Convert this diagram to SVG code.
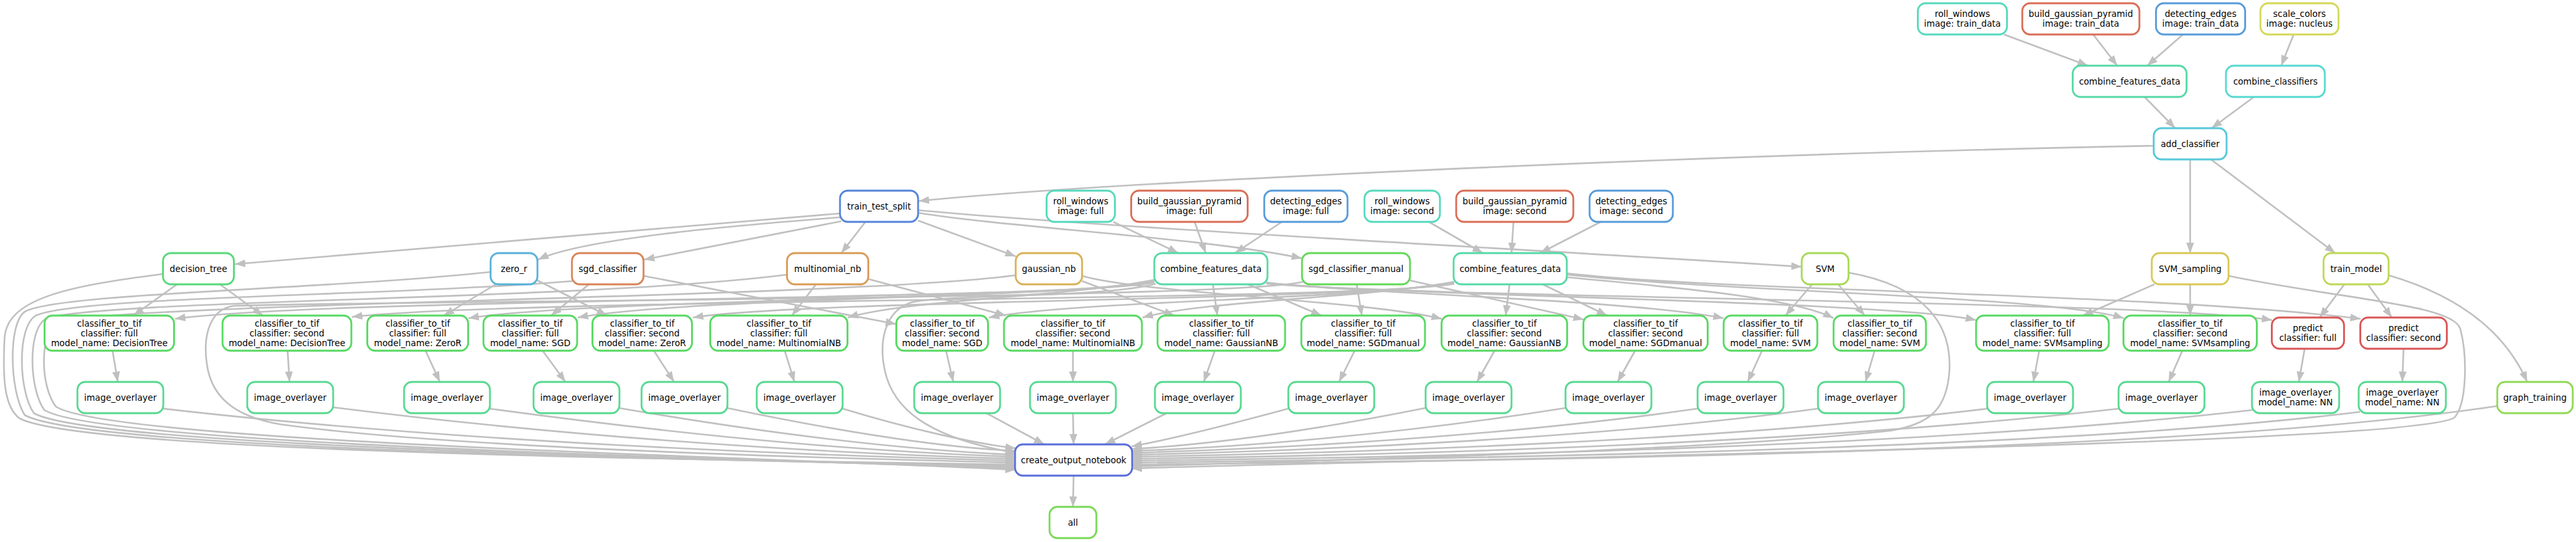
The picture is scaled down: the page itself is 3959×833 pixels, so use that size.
<svg xmlns="http://www.w3.org/2000/svg" width="3959" height="833" viewBox="0 0 3959 833">
<style>
.e path{fill:none;stroke:#c0c0c0;stroke-width:2.6;marker-end:url(#ah)}
.n rect{fill:#fff;stroke-width:2.8}
.n text{font-family:"DejaVu Sans","Liberation Sans",sans-serif;font-size:13.33px;text-anchor:middle;fill:#000}
</style>
<defs>
<marker id="ah" markerUnits="userSpaceOnUse" markerWidth="17" markerHeight="13" viewBox="0 0 17 13" refX="16" refY="6.5" orient="auto"><path d="M0,0.5 L16,6.5 L0,12.5 z" fill="#c0c0c0"/></marker>
</defs>
<rect width="3959" height="833" fill="#fff"/>
<g id="edges" class="e">
<path d="M3080,53 L3209,101"/>
<path d="M3217,53 L3254,101"/>
<path d="M3355,53 L3300,101"/>
<path d="M3525,53 L3506,101"/>
<path d="M3296,149 L3343,197"/>
<path d="M3464,149 L3399,197"/>
<path d="M3311,224 C2600,238 1700,280 1412,309"/>
<path d="M3366,245 L3366,389"/>
<path d="M3398,245 L3589,389"/>
<path d="M1291,328 L361,406"/>
<path d="M1292,334 C1150,345 900,365 827,399"/>
<path d="M1293,340 L990,399"/>
<path d="M1330,341 L1293,389"/>
<path d="M1411,339 L1561,394"/>
<path d="M1411,327 C1550,350 1850,365 2001,397"/>
<path d="M1411,323 C1700,350 2300,380 2769,410"/>
<path d="M1711,341 L1811,389"/>
<path d="M1836,341 L1853,389"/>
<path d="M1970,341 L1898,389"/>
<path d="M2196,341 L2279,389"/>
<path d="M2326,341 L2323,389"/>
<path d="M2460,341 L2367,389"/>
<path d="M272,437 L205,485"/>
<path d="M338,437 L404,485"/>
<path d="M762,437 L682,485"/>
<path d="M826,431 L933,485"/>
<path d="M905,437 L847,485"/>
<path d="M989,424 L1377,498"/>
<path d="M1254,437 L1217,485"/>
<path d="M1335,429 L1546,485"/>
<path d="M1663,432 L1805,485"/>
<path d="M1663,424 C1750,450 2100,462 2216,490"/>
<path d="M2085,437 L2093,485"/>
<path d="M2167,431 L2434,491"/>
<path d="M2785,437 L2744,485"/>
<path d="M2825,437 L2866,485"/>
<path d="M3311,437 L3201,485"/>
<path d="M3366,437 L3366,485"/>
<path d="M3603,437 L3565,488"/>
<path d="M3639,437 L3676,488"/>
<path d="M3671,423 C3780,455 3850,510 3884,587"/>
<path d="M1864,437 L1871,485"/>
<path d="M1918,437 L2031,485"/>
<path d="M1946,434 C2100,452 2500,460 2649,489"/>
<path d="M1946,435 C2150,455 2900,462 3037,492"/>
<path d="M1946,436 C2200,458 3300,462 3492,492"/>
<path d="M1774,430 C1650,455 1400,460 1303,488"/>
<path d="M1774,432 C1650,457 1050,458 888,488"/>
<path d="M1774,433 C1650,459 900,460 720,489"/>
<path d="M1774,434 C1650,461 500,458 269,490"/>
<path d="M2320,437 L2314,485"/>
<path d="M2371,437 L2470,485"/>
<path d="M2408,426 C2550,440 2750,455 2818,489"/>
<path d="M2408,422 C2650,448 3150,455 3264,489"/>
<path d="M2408,420 C2650,448 3300,450 3628,490"/>
<path d="M2235,433 C2100,458 1850,462 1756,488"/>
<path d="M2235,434 C2100,460 1650,462 1520,488"/>
<path d="M2235,435 C2100,462 1250,460 1065,488"/>
<path d="M2235,436 C2100,463 800,458 541,487"/>
<path d="M173,539 L181,587"/>
<path d="M442,539 L445,587"/>
<path d="M654,539 L676,587"/>
<path d="M834,539 L869,587"/>
<path d="M1005,539 L1036,587"/>
<path d="M1206,539 L1221,587"/>
<path d="M1454,539 L1465,587"/>
<path d="M1649,539 L1649,587"/>
<path d="M1867,539 L1850,587"/>
<path d="M2082,539 L2058,587"/>
<path d="M2297,539 L2270,587"/>
<path d="M2513,539 L2486,587"/>
<path d="M2708,539 L2686,587"/>
<path d="M2881,539 L2867,587"/>
<path d="M3134,539 L3125,587"/>
<path d="M3354,539 L3333,587"/>
<path d="M3542,536 L3533,587"/>
<path d="M3694,536 L3692,587"/>
<path d="M1516,635 L1605,683"/>
<path d="M1649,635 L1650,683"/>
<path d="M1793,635 L1698,683"/>
<path d="M1295,628 C1400,660 1500,682 1561,689"/>
<path d="M1117,627 C1300,665 1450,688 1561,693"/>
<path d="M951,627 C1200,670 1400,692 1561,699"/>
<path d="M752,628 C1100,675 1350,695 1561,702"/>
<path d="M512,626 C900,675 1300,698 1561,705"/>
<path d="M251,628 C700,680 1250,700 1561,708"/>
<path d="M1980,628 C1880,655 1790,677 1739,686"/>
<path d="M2191,627 C2000,665 1850,684 1739,690"/>
<path d="M2406,627 C2150,668 1900,688 1739,693"/>
<path d="M2609,628 C2300,672 1950,690 1739,696"/>
<path d="M2794,628 C2450,675 2000,693 1739,699"/>
<path d="M3055,628 C2650,677 2100,696 1739,702"/>
<path d="M3257,628 C2800,680 2200,699 1739,705"/>
<path d="M3463,630 C3000,683 2300,702 1739,708"/>
<path d="M3627,633 C3200,686 2400,704 1739,711"/>
<path d="M3838,624 C3400,690 2500,707 1739,714"/>
<path d="M2841,419 C2960,440 3000,500 2996,570 C2992,630 2965,652 2905,662 C2600,695 2000,708 1739,717"/>
<path d="M3425,424 C3600,460 3770,468 3781,505 C3792,545 3792,620 3772,642 C3700,685 2200,705 1739,720"/>
<path d="M1776,436 C1700,458 1450,452 1400,465 C1360,478 1350,525 1360,570 C1372,625 1420,672 1561,696"/>
<path d="M2003,433 C1900,460 600,462 360,470 C320,475 312,520 318,560 C325,610 360,640 430,652 C700,690 1300,705 1561,711"/>
<path d="M251,421 C100,440 10,460 7,520 C4,580 6,625 30,643 C120,690 900,705 1561,714"/>
<path d="M754,418 C500,445 100,450 40,478 C12,492 14,600 38,638 C130,688 950,705 1561,716"/>
<path d="M880,432 C600,455 120,455 55,485 C26,502 28,600 52,635 C140,685 1000,703 1561,718"/>
<path d="M1210,422 C900,462 150,460 70,490 C42,508 45,598 68,630 C150,682 1050,702 1561,720"/>
<path d="M1561,423 C1300,458 200,465 88,495 C60,512 62,595 86,625 C170,678 1100,700 1561,722"/>
<path d="M1650,731 L1649,779"/>
</g>
<g id="n_rw_td" class="n"><rect x="2947.5" y="5" width="137" height="48" rx="12" stroke="#57d9bd"/><text x="3016" y="26"><tspan x="3016" y="26">roll_windows</tspan><tspan x="3016" y="41">image: train_data</tspan></text></g>
<g id="n_bgp_td" class="n"><rect x="3108" y="5" width="180" height="48" rx="12" stroke="#d96e57"/><text x="3198" y="26"><tspan x="3198" y="26">build_gaussian_pyramid</tspan><tspan x="3198" y="41">image: train_data</tspan></text></g>
<g id="n_de_td" class="n"><rect x="3313.5" y="5" width="137" height="48" rx="12" stroke="#579bd9"/><text x="3382" y="26"><tspan x="3382" y="26">detecting_edges</tspan><tspan x="3382" y="41">image: train_data</tspan></text></g>
<g id="n_sc" class="n"><rect x="3474" y="5" width="120" height="48" rx="12" stroke="#d3d957"/><text x="3534" y="26"><tspan x="3534" y="26">scale_colors</tspan><tspan x="3534" y="41">image: nucleus</tspan></text></g>
<g id="n_cfd_td" class="n"><rect x="3185.5" y="101" width="175" height="48" rx="12" stroke="#57d9a6"/><text x="3273" y="130">combine_features_data</text></g>
<g id="n_cc" class="n"><rect x="3421" y="101" width="152" height="48" rx="12" stroke="#57d9d3"/><text x="3497" y="130">combine_classifiers</text></g>
<g id="n_ac" class="n"><rect x="3310" y="197" width="112" height="48" rx="12" stroke="#57c8d9"/><text x="3366" y="226">add_classifier</text></g>
<g id="n_tts" class="n"><rect x="1291" y="293" width="120" height="48" rx="12" stroke="#5784d9"/><text x="1351" y="322">train_test_split</text></g>
<g id="n_rw_f" class="n"><rect x="1608.5" y="293" width="105" height="48" rx="12" stroke="#57d9bd"/><text x="1661" y="314"><tspan x="1661" y="314">roll_windows</tspan><tspan x="1661" y="329">image: full</tspan></text></g>
<g id="n_bgp_f" class="n"><rect x="1738.5" y="293" width="179" height="48" rx="12" stroke="#d96e57"/><text x="1828" y="314"><tspan x="1828" y="314">build_gaussian_pyramid</tspan><tspan x="1828" y="329">image: full</tspan></text></g>
<g id="n_de_f" class="n"><rect x="1943" y="293" width="128" height="48" rx="12" stroke="#579bd9"/><text x="2007" y="314"><tspan x="2007" y="314">detecting_edges</tspan><tspan x="2007" y="329">image: full</tspan></text></g>
<g id="n_rw_s" class="n"><rect x="2097" y="293" width="116" height="48" rx="12" stroke="#57d9bd"/><text x="2155" y="314"><tspan x="2155" y="314">roll_windows</tspan><tspan x="2155" y="329">image: second</tspan></text></g>
<g id="n_bgp_s" class="n"><rect x="2238" y="293" width="180" height="48" rx="12" stroke="#d96e57"/><text x="2328" y="314"><tspan x="2328" y="314">build_gaussian_pyramid</tspan><tspan x="2328" y="329">image: second</tspan></text></g>
<g id="n_de_s" class="n"><rect x="2443" y="293" width="128" height="48" rx="12" stroke="#579bd9"/><text x="2507" y="314"><tspan x="2507" y="314">detecting_edges</tspan><tspan x="2507" y="329">image: second</tspan></text></g>
<g id="n_dt" class="n"><rect x="250.5" y="389" width="109" height="48" rx="12" stroke="#57d979"/><text x="305" y="418">decision_tree</text></g>
<g id="n_zr" class="n"><rect x="754" y="389" width="72" height="48" rx="12" stroke="#57b1d9"/><text x="790" y="418">zero_r</text></g>
<g id="n_sgd" class="n"><rect x="879" y="389" width="110" height="48" rx="12" stroke="#d98457"/><text x="934" y="418">sgd_classifier</text></g>
<g id="n_mnb" class="n"><rect x="1209.5" y="389" width="125" height="48" rx="12" stroke="#d99b57"/><text x="1272" y="418">multinomial_nb</text></g>
<g id="n_gnb" class="n"><rect x="1561" y="389" width="102" height="48" rx="12" stroke="#d9b157"/><text x="1612" y="418">gaussian_nb</text></g>
<g id="n_cfd_f" class="n"><rect x="1774" y="389" width="174" height="48" rx="12" stroke="#57d9a6"/><text x="1861" y="418">combine_features_data</text></g>
<g id="n_sgdm" class="n"><rect x="2001" y="389" width="166" height="48" rx="12" stroke="#62d957"/><text x="2084" y="418">sgd_classifier_manual</text></g>
<g id="n_cfd_s" class="n"><rect x="2234" y="389" width="174" height="48" rx="12" stroke="#57d9a6"/><text x="2321" y="418">combine_features_data</text></g>
<g id="n_svm" class="n"><rect x="2769" y="389" width="72" height="48" rx="12" stroke="#a6d957"/><text x="2805" y="418">SVM</text></g>
<g id="n_svms" class="n"><rect x="3307" y="389" width="118" height="48" rx="12" stroke="#d9c857"/><text x="3366" y="418">SVM_sampling</text></g>
<g id="n_tm" class="n"><rect x="3571" y="389" width="100" height="48" rx="12" stroke="#bdd957"/><text x="3621" y="418">train_model</text></g>
<g id="n_c1" class="n"><rect x="68.5" y="485" width="199" height="54" rx="12" stroke="#57d962"/><text x="168" y="501.5"><tspan x="168" y="501.5">classifier_to_tif</tspan><tspan x="168" y="516.5">classifier: full</tspan><tspan x="168" y="531.5">model_name: DecisionTree</tspan></text></g>
<g id="n_c2" class="n"><rect x="342" y="485" width="198" height="54" rx="12" stroke="#57d962"/><text x="441" y="501.5"><tspan x="441" y="501.5">classifier_to_tif</tspan><tspan x="441" y="516.5">classifier: second</tspan><tspan x="441" y="531.5">model_name: DecisionTree</tspan></text></g>
<g id="n_c3" class="n"><rect x="564.5" y="485" width="155" height="54" rx="12" stroke="#57d962"/><text x="642" y="501.5"><tspan x="642" y="501.5">classifier_to_tif</tspan><tspan x="642" y="516.5">classifier: full</tspan><tspan x="642" y="531.5">model_name: ZeroR</tspan></text></g>
<g id="n_c4" class="n"><rect x="743" y="485" width="144" height="54" rx="12" stroke="#57d962"/><text x="815" y="501.5"><tspan x="815" y="501.5">classifier_to_tif</tspan><tspan x="815" y="516.5">classifier: full</tspan><tspan x="815" y="531.5">model_name: SGD</tspan></text></g>
<g id="n_c5" class="n"><rect x="910.5" y="485" width="153" height="54" rx="12" stroke="#57d962"/><text x="987" y="501.5"><tspan x="987" y="501.5">classifier_to_tif</tspan><tspan x="987" y="516.5">classifier: second</tspan><tspan x="987" y="531.5">model_name: ZeroR</tspan></text></g>
<g id="n_c6" class="n"><rect x="1091.5" y="485" width="211" height="54" rx="12" stroke="#57d962"/><text x="1197" y="501.5"><tspan x="1197" y="501.5">classifier_to_tif</tspan><tspan x="1197" y="516.5">classifier: full</tspan><tspan x="1197" y="531.5">model_name: MultinomialNB</tspan></text></g>
<g id="n_c7" class="n"><rect x="1377.5" y="485" width="141" height="54" rx="12" stroke="#57d962"/><text x="1448" y="501.5"><tspan x="1448" y="501.5">classifier_to_tif</tspan><tspan x="1448" y="516.5">classifier: second</tspan><tspan x="1448" y="531.5">model_name: SGD</tspan></text></g>
<g id="n_c8" class="n"><rect x="1543" y="485" width="212" height="54" rx="12" stroke="#57d962"/><text x="1649" y="501.5"><tspan x="1649" y="501.5">classifier_to_tif</tspan><tspan x="1649" y="516.5">classifier: second</tspan><tspan x="1649" y="531.5">model_name: MultinomialNB</tspan></text></g>
<g id="n_c9" class="n"><rect x="1779" y="485" width="196" height="54" rx="12" stroke="#57d962"/><text x="1877" y="501.5"><tspan x="1877" y="501.5">classifier_to_tif</tspan><tspan x="1877" y="516.5">classifier: full</tspan><tspan x="1877" y="531.5">model_name: GaussianNB</tspan></text></g>
<g id="n_c10" class="n"><rect x="2000" y="485" width="190" height="54" rx="12" stroke="#57d962"/><text x="2095" y="501.5"><tspan x="2095" y="501.5">classifier_to_tif</tspan><tspan x="2095" y="516.5">classifier: full</tspan><tspan x="2095" y="531.5">model_name: SGDmanual</tspan></text></g>
<g id="n_c11" class="n"><rect x="2215.5" y="485" width="193" height="54" rx="12" stroke="#57d962"/><text x="2312" y="501.5"><tspan x="2312" y="501.5">classifier_to_tif</tspan><tspan x="2312" y="516.5">classifier: second</tspan><tspan x="2312" y="531.5">model_name: GaussianNB</tspan></text></g>
<g id="n_c12" class="n"><rect x="2433.5" y="485" width="191" height="54" rx="12" stroke="#57d962"/><text x="2529" y="501.5"><tspan x="2529" y="501.5">classifier_to_tif</tspan><tspan x="2529" y="516.5">classifier: second</tspan><tspan x="2529" y="531.5">model_name: SGDmanual</tspan></text></g>
<g id="n_c13" class="n"><rect x="2649" y="485" width="144" height="54" rx="12" stroke="#57d962"/><text x="2721" y="501.5"><tspan x="2721" y="501.5">classifier_to_tif</tspan><tspan x="2721" y="516.5">classifier: full</tspan><tspan x="2721" y="531.5">model_name: SVM</tspan></text></g>
<g id="n_c14" class="n"><rect x="2818" y="485" width="142" height="54" rx="12" stroke="#57d962"/><text x="2889" y="501.5"><tspan x="2889" y="501.5">classifier_to_tif</tspan><tspan x="2889" y="516.5">classifier: second</tspan><tspan x="2889" y="531.5">model_name: SVM</tspan></text></g>
<g id="n_c15" class="n"><rect x="3037" y="485" width="204" height="54" rx="12" stroke="#57d962"/><text x="3139" y="501.5"><tspan x="3139" y="501.5">classifier_to_tif</tspan><tspan x="3139" y="516.5">classifier: full</tspan><tspan x="3139" y="531.5">model_name: SVMsampling</tspan></text></g>
<g id="n_c16" class="n"><rect x="3263.5" y="485" width="205" height="54" rx="12" stroke="#57d962"/><text x="3366" y="501.5"><tspan x="3366" y="501.5">classifier_to_tif</tspan><tspan x="3366" y="516.5">classifier: second</tspan><tspan x="3366" y="531.5">model_name: SVMsampling</tspan></text></g>
<g id="n_pf" class="n"><rect x="3491.5" y="488" width="111" height="48" rx="12" stroke="#d95757"/><text x="3547" y="509"><tspan x="3547" y="509">predict</tspan><tspan x="3547" y="524">classifier: full</tspan></text></g>
<g id="n_ps" class="n"><rect x="3627.5" y="488" width="133" height="48" rx="12" stroke="#d95757"/><text x="3694" y="509"><tspan x="3694" y="509">predict</tspan><tspan x="3694" y="524">classifier: second</tspan></text></g>
<g id="n_i1" class="n"><rect x="119" y="587" width="132" height="48" rx="12" stroke="#57d990"/><text x="185" y="616">image_overlayer</text></g>
<g id="n_i2" class="n"><rect x="380" y="587" width="132" height="48" rx="12" stroke="#57d990"/><text x="446" y="616">image_overlayer</text></g>
<g id="n_i3" class="n"><rect x="621" y="587" width="132" height="48" rx="12" stroke="#57d990"/><text x="687" y="616">image_overlayer</text></g>
<g id="n_i4" class="n"><rect x="820" y="587" width="132" height="48" rx="12" stroke="#57d990"/><text x="886" y="616">image_overlayer</text></g>
<g id="n_i5" class="n"><rect x="986" y="587" width="132" height="48" rx="12" stroke="#57d990"/><text x="1052" y="616">image_overlayer</text></g>
<g id="n_i6" class="n"><rect x="1163" y="587" width="132" height="48" rx="12" stroke="#57d990"/><text x="1229" y="616">image_overlayer</text></g>
<g id="n_i7" class="n"><rect x="1405" y="587" width="132" height="48" rx="12" stroke="#57d990"/><text x="1471" y="616">image_overlayer</text></g>
<g id="n_i8" class="n"><rect x="1583" y="587" width="132" height="48" rx="12" stroke="#57d990"/><text x="1649" y="616">image_overlayer</text></g>
<g id="n_i9" class="n"><rect x="1775" y="587" width="132" height="48" rx="12" stroke="#57d990"/><text x="1841" y="616">image_overlayer</text></g>
<g id="n_i10" class="n"><rect x="1980" y="587" width="132" height="48" rx="12" stroke="#57d990"/><text x="2046" y="616">image_overlayer</text></g>
<g id="n_i11" class="n"><rect x="2191" y="587" width="132" height="48" rx="12" stroke="#57d990"/><text x="2257" y="616">image_overlayer</text></g>
<g id="n_i12" class="n"><rect x="2406" y="587" width="132" height="48" rx="12" stroke="#57d990"/><text x="2472" y="616">image_overlayer</text></g>
<g id="n_i13" class="n"><rect x="2609" y="587" width="132" height="48" rx="12" stroke="#57d990"/><text x="2675" y="616">image_overlayer</text></g>
<g id="n_i14" class="n"><rect x="2794" y="587" width="132" height="48" rx="12" stroke="#57d990"/><text x="2860" y="616">image_overlayer</text></g>
<g id="n_i15" class="n"><rect x="3054" y="587" width="132" height="48" rx="12" stroke="#57d990"/><text x="3120" y="616">image_overlayer</text></g>
<g id="n_i16" class="n"><rect x="3256" y="587" width="132" height="48" rx="12" stroke="#57d990"/><text x="3322" y="616">image_overlayer</text></g>
<g id="n_nn1" class="n"><rect x="3461" y="587" width="134" height="48" rx="12" stroke="#57d990"/><text x="3528" y="608"><tspan x="3528" y="608">image_overlayer</tspan><tspan x="3528" y="623">model_name: NN</tspan></text></g>
<g id="n_nn2" class="n"><rect x="3625" y="587" width="134" height="48" rx="12" stroke="#57d990"/><text x="3692" y="608"><tspan x="3692" y="608">image_overlayer</tspan><tspan x="3692" y="623">model_name: NN</tspan></text></g>
<g id="n_gt" class="n"><rect x="3838" y="587" width="116" height="48" rx="12" stroke="#90d957"/><text x="3896" y="616">graph_training</text></g>
<g id="n_con" class="n"><rect x="1560" y="683" width="180" height="48" rx="12" stroke="#576ed9"/><text x="1650" y="712">create_output_notebook</text></g>
<g id="n_all" class="n"><rect x="1613" y="779" width="72" height="48" rx="12" stroke="#79d957"/><text x="1649" y="808">all</text></g>
</svg>
